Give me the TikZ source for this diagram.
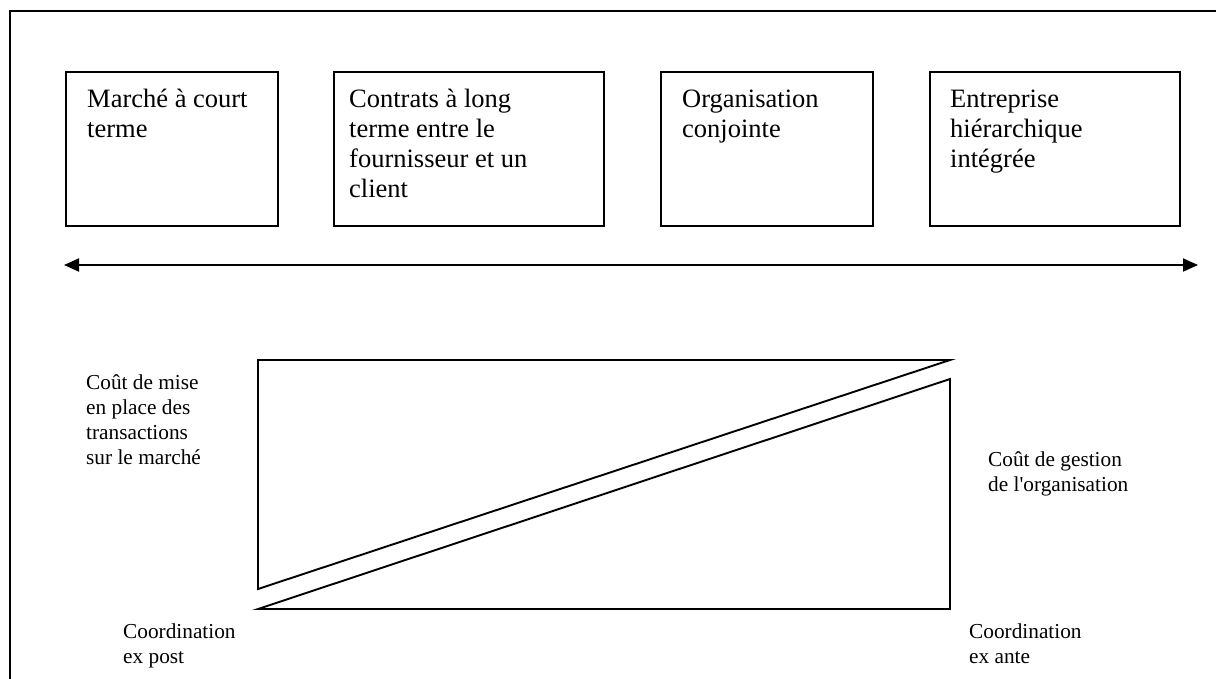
\documentclass[tikz,border=0pt]{standalone}
\usepackage{fontspec}
\setmainfont{Liberation Serif}[Ligatures=TeXOff]
\usetikzlibrary{arrows.meta}
\newcommand{\toplines}[1]{\parbox[t]{320pt}{\raggedright #1}}
\begin{document}
\begin{tikzpicture}
[x=1pt,y=-1pt,
  boxdecorate/.style={shape=rectangle,draw,line width=1.9pt,minimum height=154pt,inner sep=0pt},%
  boxtext/.style={anchor=base west,inner sep=0pt,font=\fontsize{26.5}{30}\selectfont},%
  costtext/.style={anchor=base west,inner sep=0pt,font=\fontsize{21.3}{25}\selectfont},%
  linedecorate/.style={line width=1.9pt,line join=miter},%
  arrowdecorate/.style={{Triangle[length=15pt,width=13pt]}-{Triangle[length=15pt,width=13pt]},line width=1.9pt}]
\clip (0,0) rectangle (1216,678);
%% frame
\draw[linedecorate] (10,700) -- (10,11) -- (1240,11);
%% boxes
\foreach \nodename/\x/\w/\tx/\txt in {
  court/172/212/87/{Marché à court\\terme},
  contrat/469/270/349/{Contrats à long\\terme entre le\\fournisseur et un\\client},
  conjointe/767/212/682/{Organisation\\conjointe},
  hierarchie/1055/250/950/{Entreprise\\hiérarchique\\intégrée}} {
  \node (\nodename) at (\x,149) [boxdecorate,minimum width=\w pt] {};
  \node (\nodename-text) at (\tx,107) [boxtext] {\toplines{\txt}};
}
%% axis
\coordinate (left) at (64,265);
\coordinate (right) at (1198,265);
\draw[arrowdecorate] (left) -- (right);
%% costs
\coordinate (a) at (258,360);
\coordinate (b) at (950,360);
\coordinate (c) at (258,589);
\coordinate (d) at (258,609);
\coordinate (e) at (950,379);
\coordinate (f) at (950,609);
\draw[linedecorate] (c) -- (a) -- (b) -- cycle;
\draw[linedecorate] (d) -- (e) -- (f) -- cycle;
%% labels
\node (marche) at (86,389) [costtext] {\toplines{Coût de mise\\en place des\\transactions\\sur le marché}};
\node (gestion) at (988,466) [costtext] {\toplines{Coût de gestion\\de l'organisation}};
\node (post) at (123,638) [costtext] {\toplines{Coordination\\ex post}};
\node (ante) at (969,638) [costtext] {\toplines{Coordination\\ex ante}};
\end{tikzpicture}
\end{document}
